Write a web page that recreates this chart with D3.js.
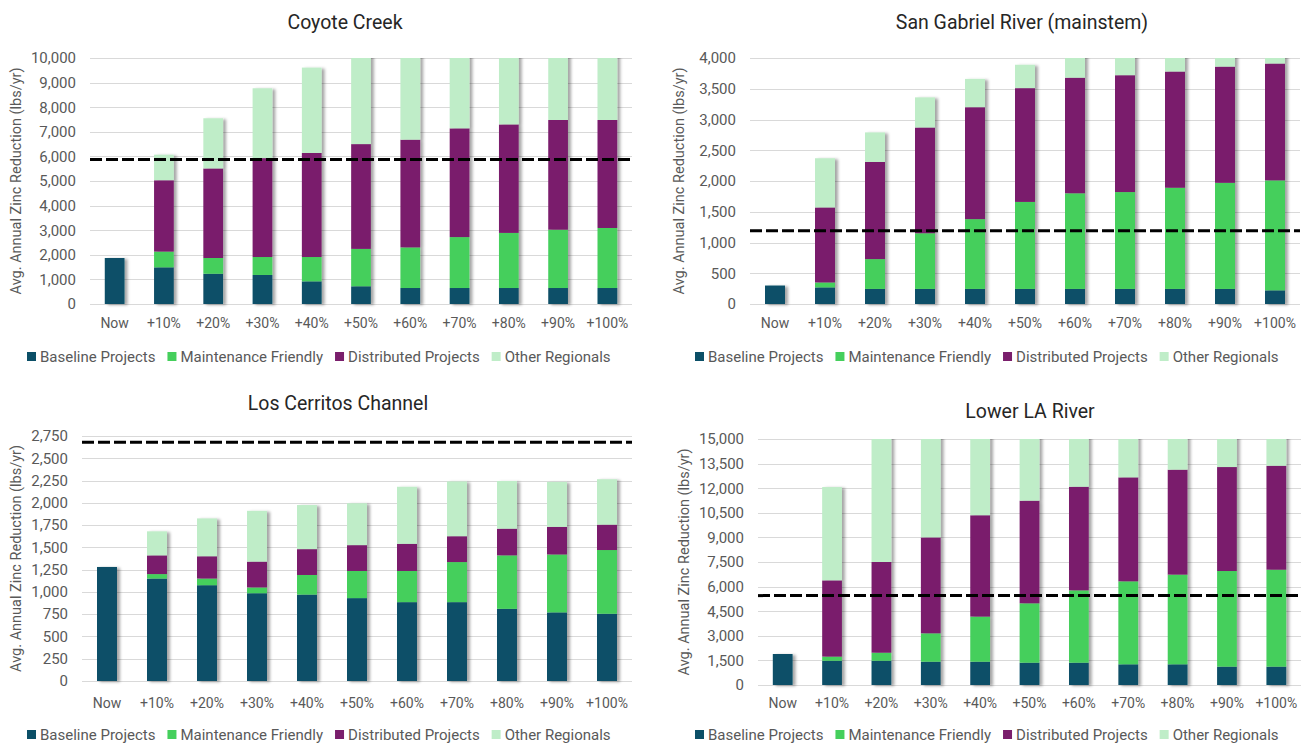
<!DOCTYPE html>
<html>
<head>
<meta charset="utf-8">
<script src="https://cdn.jsdelivr.net/npm/d3@7"></script>
<style>
  html, body { margin: 0; padding: 0; background: #fff; }
  svg { display: block; font-family: Roboto, "Open Sans", sans-serif; }
</style>
</head>
<body>
<svg id="chart" width="1305" height="743"></svg>
<script>
// Scenario categories shared by every watershed
const categories = ["Now", "+10%", "+20%", "+30%", "+40%", "+50%", "+60%", "+70%", "+80%", "+90%", "+100%"];
const seriesNames = ["Baseline Projects", "Maintenance Friendly", "Distributed Projects", "Other Regionals"];
const seriesColors = ["#0b4f67", "#45cf5c", "#7a1e6c", "#bfedc8"];

// Coyote Creek (lbs/yr of zinc removed per project group)
const coyoteBaseline    = [1870, 1490, 1230, 1180, 920, 720, 650, 650, 650, 650, 650];
const coyoteMaintenance = [0, 640, 640, 730, 990, 1520, 1650, 2070, 2240, 2370, 2440];
const coyoteDistributed = [0, 2900, 3640, 4020, 4230, 4260, 4380, 4420, 4410, 4460, 4390];
const coyoteOther       = [0, 1040, 2040, 2840, 3470, 3800, 4100, 4000, 4100, 4100, 4200];
const coyoteTarget = 5870;
const coyoteTicks = d3.range(0, 10001, 1000);

// San Gabriel River (mainstem)
const sanGabrielBaseline    = [300, 270, 245, 245, 245, 245, 245, 245, 245, 245, 222];
const sanGabrielMaintenance = [0, 80, 485, 905, 1135, 1415, 1555, 1575, 1645, 1725, 1788];
const sanGabrielDistributed = [0, 1220, 1580, 1720, 1820, 1850, 1880, 1900, 1890, 1890, 1900];
const sanGabrielOther       = [0, 800, 480, 490, 460, 380, 420, 400, 380, 340, 330];
const sanGabrielTarget = 1190;
const sanGabrielTicks = d3.range(0, 4001, 500);

// Los Cerritos Channel
const cerritosBaseline    = [1280, 1150, 1075, 985, 970, 930, 885, 885, 810, 770, 755];
const cerritosMaintenance = [0, 50, 75, 65, 220, 305, 350, 450, 600, 650, 715];
const cerritosDistributed = [0, 210, 250, 290, 290, 290, 305, 290, 300, 310, 285];
const cerritosOther       = [0, 270, 425, 570, 495, 470, 640, 615, 535, 505, 510];
const cerritosTarget = 2680;
const cerritosTicks = d3.range(0, 2751, 250);

// Lower LA River
const lowerLABaseline    = [1890, 1480, 1480, 1420, 1420, 1360, 1360, 1260, 1260, 1120, 1120];
const lowerLAMaintenance = [0, 250, 490, 1730, 2750, 3620, 4410, 5060, 5470, 5830, 5910];
const lowerLADistributed = [0, 4650, 5530, 5850, 6180, 6260, 6320, 6340, 6400, 6340, 6340];
const lowerLAOther       = [0, 5690, 8100, 7000, 5850, 5060, 4310, 3840, 3470, 3410, 3430];
const lowerLATarget = 5450;
const lowerLATicks = d3.range(0, 15001, 1500);

const panels = [
  { title: "Coyote Creek", series: [coyoteBaseline, coyoteMaintenance, coyoteDistributed, coyoteOther],
    target: coyoteTarget, ticks: coyoteTicks,
    box: { x0: 90, x1: 632, y0: 58, y1: 304 }, titleX: 345, titleY: 29, yTitleX: 21, labelY: 328, legendX: 27, legendY: 357 },
  { title: "San Gabriel River (mainstem)", series: [sanGabrielBaseline, sanGabrielMaintenance, sanGabrielDistributed, sanGabrielOther],
    target: sanGabrielTarget, ticks: sanGabrielTicks,
    box: { x0: 750, x1: 1300, y0: 58, y1: 304 }, titleX: 1022, titleY: 29, yTitleX: 684, labelY: 328, legendX: 695, legendY: 357 },
  { title: "Los Cerritos Channel", series: [cerritosBaseline, cerritosMaintenance, cerritosDistributed, cerritosOther],
    target: cerritosTarget, ticks: cerritosTicks,
    box: { x0: 82, x1: 632, y0: 436, y1: 681 }, titleX: 338, titleY: 410, yTitleX: 21, labelY: 708, legendX: 27, legendY: 735 },
  { title: "Lower LA River", series: [lowerLABaseline, lowerLAMaintenance, lowerLADistributed, lowerLAOther],
    target: lowerLATarget, ticks: lowerLATicks,
    box: { x0: 758, x1: 1301, y0: 439, y1: 685 }, titleX: 1030, titleY: 418, yTitleX: 689, labelY: 708, legendX: 695, legendY: 735 }
];

const svg = d3.select("#chart");
const defs = svg.append("defs");
const shadow = defs.append("filter").attr("id", "barShadow")
  .attr("x", "-20%").attr("y", "-5%").attr("width", "160%").attr("height", "115%");
shadow.append("feDropShadow").attr("dx", 3).attr("dy", 1).attr("stdDeviation", 1.6)
  .attr("flood-color", "#000").attr("flood-opacity", 0.35);

const fmt = d3.format(",");

panels.forEach((p, pi) => {
  const b = p.box;
  const maxV = p.ticks[p.ticks.length - 1];
  const x = d3.scaleBand().domain(categories).range([b.x0, b.x1]).paddingInner(0.6).paddingOuter(0.3);
  const y = d3.scaleLinear().domain([0, maxV]).range([b.y1, b.y0]);

  const g = svg.append("g");

  // Title
  g.append("text").attr("x", p.titleX).attr("y", p.titleY)
    .attr("text-anchor", "middle").attr("font-size", 19.5).attr("fill", "#262626")
    .text(p.title);

  // Gridlines
  g.append("g").selectAll("line").data(p.ticks).join("line")
    .attr("x1", b.x0).attr("x2", b.x1)
    .attr("y1", d => Math.round(y(d)) + 0.5).attr("y2", d => Math.round(y(d)) + 0.5)
    .attr("stroke", "#d9d9d9").attr("stroke-width", 1);

  // Y axis labels
  const yAxis = d3.axisLeft(y).tickValues(p.ticks).tickFormat(fmt).tickSize(0).tickPadding(14);
  const ya = g.append("g").attr("transform", `translate(${b.x0},0)`).call(yAxis);
  ya.select(".domain").remove();
  ya.selectAll("text").attr("font-size", 15).attr("fill", "#595959").attr("font-family", "Roboto, sans-serif");

  // X axis labels
  const xAxis = d3.axisBottom(x).tickSize(0).tickPadding(0);
  const xa = g.append("g").attr("transform", `translate(0,${p.labelY - 10})`).call(xAxis);
  xa.select(".domain").remove();
  xa.selectAll("text").attr("font-size", 14).attr("fill", "#595959").attr("font-family", "Roboto, sans-serif");

  // Y axis title
  g.append("text")
    .attr("transform", `translate(${p.yTitleX},${(b.y0 + b.y1) / 2}) rotate(-90)`)
    .attr("text-anchor", "middle").attr("font-size", 14.5).attr("fill", "#595959")
    .text("Avg. Annual Zinc Reduction (lbs/yr)");

  // Stacked bars, clipped to plot area
  const clipId = "clip" + pi;
  defs.append("clipPath").attr("id", clipId).append("rect")
    .attr("x", b.x0).attr("y", b.y0).attr("width", b.x1 - b.x0 + 10).attr("height", b.y1 - b.y0 + 10);

  const rows = categories.map((c, i) => {
    const r = { cat: c };
    seriesNames.forEach((s, si) => r[s] = p.series[si][i]);
    return r;
  });
  const stacked = d3.stack().keys(seriesNames)(rows);

  const barsG = g.append("g").attr("clip-path", `url(#${clipId})`)
    .append("g").attr("filter", "url(#barShadow)");
  stacked.forEach((layer, li) => {
    barsG.append("g").selectAll("rect").data(layer).join("rect")
      .attr("x", d => x(d.data.cat))
      .attr("width", x.bandwidth())
      .attr("y", d => y(d[1]))
      .attr("height", d => Math.max(0, y(d[0]) - y(d[1])))
      .attr("fill", seriesColors[li]);
  });

  // Target line
  g.append("line")
    .attr("x1", b.x0).attr("x2", b.x1)
    .attr("y1", y(p.target)).attr("y2", y(p.target))
    .attr("stroke", "#000").attr("stroke-width", 3).attr("stroke-dasharray", "12,4");

  // Legend
  const lg = g.append("g").attr("transform", `translate(${p.legendX},${p.legendY})`);
  let cx = 0;
  seriesNames.forEach((s, si) => {
    const item = lg.append("g").attr("transform", `translate(${cx},0)`);
    item.append("rect").attr("x", 0).attr("y", -5).attr("width", 9).attr("height", 9).attr("fill", seriesColors[si]);
    const t = item.append("text").attr("x", 13).attr("y", 0).attr("dy", "0.35em")
      .attr("font-size", 15).attr("fill", "#595959").text(s);
    cx += 13 + t.node().getComputedTextLength() + 12;
  });
});
</script>
</body>
</html>
